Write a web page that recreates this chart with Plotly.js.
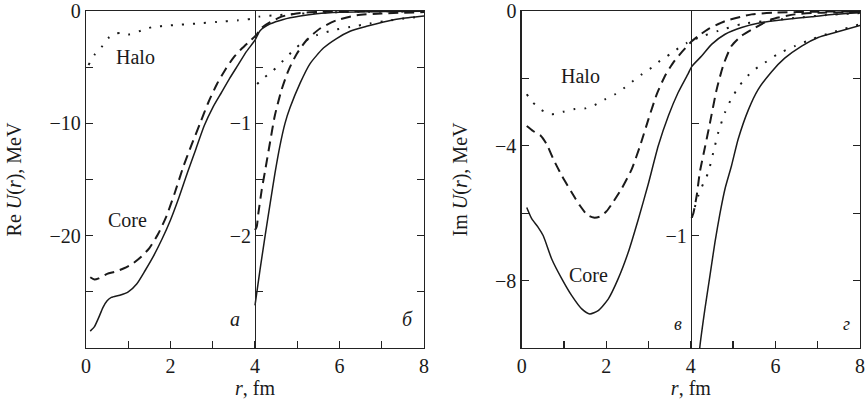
<!DOCTYPE html>
<html>
<head>
<meta charset="utf-8">
<script src="https://cdn.plot.ly/plotly-3.0.1.min.js"></script>
<style>
html,body{margin:0;padding:0;background:#fff;}
#chart{width:866px;height:399px;}
</style>
</head>
<body>
<div id="chart"></div>
<script>
// ---------- Left panel (Re U), main scale ----------
const reSolidR = [0.1,0.2,0.3,0.4,0.5,0.6,0.8,1.0,1.2,1.4,1.6,1.8,2.0,2.2,2.4,2.6,2.8,3.0,3.2,3.4,3.6,3.8,4.0,4.12,4.36,4.67,5.07,5.46,6.0,7.0,8.0];
const reSolidV = [-28.5,-28.1,-27.3,-26.4,-25.8,-25.5,-25.3,-25.0,-24.3,-23.1,-21.8,-20.3,-18.6,-16.6,-14.4,-12.3,-10.2,-8.6,-7.3,-6.0,-4.8,-3.6,-2.6,-1.75,-1.15,-0.75,-0.45,-0.25,-0.12,-0.05,-0.02];
const reDashR = [0.1,0.2,0.3,0.5,0.7,0.9,1.1,1.3,1.5,1.7,1.9,2.1,2.3,2.5,2.7,2.9,3.1,3.3,3.5,3.7,3.9,4.04,4.12,4.36,4.6,4.75,5.07,5.5,6.0,7.0,8.0];
const reDashV = [-23.7,-23.9,-23.8,-23.4,-23.2,-22.9,-22.5,-21.9,-21.1,-19.9,-18.3,-16.2,-13.9,-11.9,-10.0,-8.1,-6.5,-5.2,-4.1,-3.3,-2.6,-2.1,-1.6,-1.0,-0.55,-0.38,-0.17,-0.08,-0.04,-0.02,-0.01];
const reDotR = [0.06,0.2,0.37,0.53,0.7,0.85,1.0,1.15,1.3,1.55,2.0,2.6,3.1,3.6,3.9,4.1,4.4,4.8,5.5,6.5,8.0];
const reDotV = [-4.8,-3.9,-3.2,-2.4,-2.0,-1.95,-2.1,-1.95,-1.75,-1.45,-1.28,-1.12,-0.97,-0.83,-0.7,-0.5,-0.4,-0.3,-0.15,-0.07,-0.02];
// ---------- Left panel, magnified scale (r >= 4) ----------
const reSolidInR = [4.0,4.12,4.24,4.36,4.47,4.59,4.71,4.83,5.07,5.3,5.62,5.93,6.25,6.64,7.04,7.43,8.0];
const reSolidInV = [-2.62,-2.3,-2.0,-1.71,-1.45,-1.2,-1.0,-0.86,-0.64,-0.47,-0.33,-0.245,-0.18,-0.136,-0.097,-0.068,-0.044];
const reDashInR = [4.0,4.04,4.08,4.16,4.24,4.36,4.47,4.63,4.79,4.99,5.22,5.54,5.93,6.41,7.0,8.0];
const reDashInV = [-1.95,-1.92,-1.80,-1.59,-1.42,-1.16,-0.93,-0.70,-0.53,-0.38,-0.26,-0.156,-0.083,-0.038,-0.022,-0.01];
const reDotInR = [4.05,4.16,4.43,4.67,4.91,5.14,5.46,5.85,6.25,6.72,7.2,8.0];
const reDotInV = [-0.65,-0.61,-0.53,-0.44,-0.35,-0.275,-0.215,-0.171,-0.142,-0.112,-0.083,-0.047];

// ---------- Right panel (Im U), main scale ----------
const imSolidR = [0.12,0.24,0.39,0.51,0.71,0.95,1.18,1.42,1.61,1.81,2.05,2.28,2.52,2.76,2.99,3.23,3.47,3.70,3.94,4.02,4.26,4.49,4.81,5.2,5.67,6.22,6.86,7.4,8.0];
const imSolidV = [-5.83,-6.17,-6.42,-6.67,-7.36,-7.95,-8.44,-8.84,-8.99,-8.89,-8.54,-7.95,-7.16,-6.17,-5.15,-4.0,-3.11,-2.42,-1.85,-1.65,-1.33,-0.99,-0.69,-0.49,-0.34,-0.25,-0.17,-0.1,-0.05];
const imDashR = [0.12,0.27,0.45,0.59,0.75,0.95,1.18,1.38,1.55,1.7,1.85,2.0,2.13,2.36,2.6,2.8,3.0,3.2,3.4,3.6,3.8,4.02,4.18,4.41,4.81,5.44,6.0,7.0,8.0];
const imDashV = [-3.41,-3.56,-3.7,-3.95,-4.4,-4.89,-5.38,-5.78,-6.05,-6.13,-6.1,-5.95,-5.73,-5.28,-4.7,-4.0,-3.2,-2.45,-1.9,-1.5,-1.2,-0.9,-0.74,-0.54,-0.30,-0.1,-0.05,-0.02,-0.01];
const imDotR = [0.12,0.27,0.47,0.71,0.98,1.26,1.5,1.73,1.97,2.21,2.44,2.64,2.84,3.07,3.27,3.51,3.70,3.90,4.2,4.65,5.2,5.75,6.5,7.2,8.0];
const imDotV = [-2.47,-2.72,-2.94,-3.06,-2.99,-2.91,-2.89,-2.79,-2.62,-2.47,-2.27,-2.07,-1.88,-1.68,-1.48,-1.28,-1.11,-0.95,-0.78,-0.59,-0.39,-0.30,-0.2,-0.12,-0.06];
// ---------- Right panel, magnified scale (r >= 4) ----------
const imSolidInR = [4.18,4.21,4.33,4.45,4.57,4.69,4.81,4.96,5.12,5.36,5.59,5.91,6.22,6.62,7.01,7.41,8.0];
const imSolidInV = [-1.6,-1.5,-1.33,-1.18,-1.03,-0.90,-0.79,-0.69,-0.57,-0.44,-0.35,-0.27,-0.21,-0.156,-0.118,-0.096,-0.064];
const imDashInR = [4.02,4.06,4.14,4.21,4.33,4.45,4.61,4.77,4.96,5.2,5.52,5.91,6.46,7.0,8.0];
const imDashInV = [-0.92,-0.90,-0.82,-0.72,-0.61,-0.50,-0.35,-0.24,-0.156,-0.11,-0.074,-0.037,-0.015,-0.008,-0.004];
const imDotInR = [4.02,4.18,4.29,4.41,4.53,4.65,4.81,4.96,5.16,5.44,5.75,6.07,6.46,6.86,7.33,8.0];
const imDotInV = [-0.92,-0.82,-0.77,-0.72,-0.63,-0.54,-0.45,-0.39,-0.33,-0.27,-0.23,-0.19,-0.156,-0.126,-0.096,-0.059];

// ---------- Ticks ----------
const xTickVals = [0,1,2,3,4,5,6,7,8];
const xTickText = ['0','','2','','4','','6','','8'];
const reTickVals = [0,-5,-10,-15,-20,-25];
const reTickText = ['0','','\u221210','','\u221220',''];
const reInTickVals = [-0.5,-1,-1.5,-2,-2.5];
const reInTickText = ['','\u22121','','\u22122',''];
const imTickVals = [0,-2,-4,-6,-8];
const imTickText = ['0','','\u22124','','\u22128'];
const imInTickVals = [-0.5,-1];
const imInTickText = ['','\u22121'];

const FONT = 'Liberation Serif';
const INK = '#1a1a1a';
const solid = {color: INK, width: 1.5, shape: 'spline', smoothing: 0.6};
const dashed = {color: INK, width: 2, dash: '10px,6px', shape: 'spline', smoothing: 0.6};
const dotted = {color: INK, width: 2, dash: '2px,9px', shape: 'spline', smoothing: 0.6};

function tr(x, y, line, xa, ya) {
  return {x: x, y: y, xaxis: xa, yaxis: ya, mode: 'lines', line: line, hoverinfo: 'skip', showlegend: false};
}

const data = [
  tr(reSolidR, reSolidV, solid, 'x', 'y'),
  tr(reDashR, reDashV, dashed, 'x', 'y'),
  tr(reDotR, reDotV, dotted, 'x', 'y'),
  tr(reSolidInR, reSolidInV, solid, 'x', 'y3'),
  tr(reDashInR, reDashInV, dashed, 'x', 'y3'),
  tr(reDotInR, reDotInV, dotted, 'x', 'y3'),
  tr(imSolidR, imSolidV, solid, 'x2', 'y2'),
  tr(imDashR, imDashV, dashed, 'x2', 'y2'),
  tr(imDotR, imDotV, dotted, 'x2', 'y2'),
  tr(imSolidInR, imSolidInV, solid, 'x2', 'y4'),
  tr(imDashInR, imDashInV, dashed, 'x2', 'y4'),
  tr(imDotInR, imDotInV, dotted, 'x2', 'y4')
];

// plot area spans x = 86 .. 860 px (774 px)
const leftDom = [0, 0.4367];
const rightDom = [0.5629, 1];

const axBase = {
  showgrid: false, zeroline: false, showline: true, linecolor: '#222', linewidth: 1.3,
  ticks: 'inside', ticklen: 7, tickwidth: 1.3, tickcolor: '#222',
  tickfont: {family: FONT, size: 20, color: INK}, fixedrange: true,
  ticklabeloverflow: 'allow'
};
const xTitle = {text: '<i>r</i>, fm', font: {family: FONT, size: 20, color: INK}, standoff: 4};

const layout = {
  width: 866, height: 399,
  margin: {l: 86, r: 6, t: 11, b: 51},
  paper_bgcolor: '#fff', plot_bgcolor: '#fff',
  font: {family: FONT, size: 20, color: INK},
  showlegend: false,
  xaxis: Object.assign({}, axBase, {domain: leftDom, range: [0, 8], anchor: 'y', mirror: true,
    tickmode: 'array', tickvals: xTickVals, ticktext: xTickText, title: xTitle}),
  xaxis2: Object.assign({}, axBase, {domain: rightDom, range: [0, 8], anchor: 'y2', mirror: true,
    tickmode: 'array', tickvals: xTickVals, ticktext: xTickText, title: xTitle}),
  yaxis: Object.assign({}, axBase, {range: [-30, 0], anchor: 'x', mirror: 'ticks',
    tickmode: 'array', tickvals: reTickVals, ticktext: reTickText,
    title: {text: 'Re <i>U</i>(<i>r</i>), MeV', font: {family: FONT, size: 20, color: INK}, standoff: 22}}),
  yaxis3: Object.assign({}, axBase, {range: [-3, 0], overlaying: 'y', anchor: 'free',
    position: (leftDom[0] + leftDom[1]) / 2, side: 'left',
    tickmode: 'array', tickvals: reInTickVals, ticktext: reInTickText}),
  yaxis2: Object.assign({}, axBase, {range: [-10, 0], anchor: 'x2', mirror: 'ticks',
    tickmode: 'array', tickvals: imTickVals, ticktext: imTickText,
    title: {text: 'Im <i>U</i>(<i>r</i>), MeV', font: {family: FONT, size: 20, color: INK}, standoff: 22}}),
  yaxis4: Object.assign({}, axBase, {range: [-1.5, 0], overlaying: 'y2', anchor: 'free',
    position: (rightDom[0] + rightDom[1]) / 2, side: 'left',
    tickmode: 'array', tickvals: imInTickVals, ticktext: imInTickText}),
  annotations: [
    {x: 1.18, y: -4.1, xref: 'x', yref: 'y', text: 'Halo', showarrow: false, font: {family: FONT, size: 20, color: INK}},
    {x: 0.98, y: -18.6, xref: 'x', yref: 'y', text: 'Core', showarrow: false, font: {family: FONT, size: 20, color: INK}},
    {x: 3.53, y: -27.4, xref: 'x', yref: 'y', text: '<i>а</i>', showarrow: false, font: {family: FONT, size: 20, color: INK}},
    {x: 7.6, y: -27.4, xref: 'x', yref: 'y', text: '<i>б</i>', showarrow: false, font: {family: FONT, size: 20, color: INK}},
    {x: 1.38, y: -1.93, xref: 'x2', yref: 'y2', text: 'Halo', showarrow: false, font: {family: FONT, size: 20, color: INK}},
    {x: 1.57, y: -7.83, xref: 'x2', yref: 'y2', text: 'Core', showarrow: false, font: {family: FONT, size: 20, color: INK}},
    {x: 3.70, y: -9.28, xref: 'x2', yref: 'y2', text: '<i>в</i>', showarrow: false, font: {family: FONT, size: 18, color: INK}},
    {x: 7.69, y: -9.28, xref: 'x2', yref: 'y2', text: '<i>г</i>', showarrow: false, font: {family: FONT, size: 18, color: INK}}
  ]
};

Plotly.newPlot('chart', data, layout, {displayModeBar: false, staticPlot: true});
</script>
</body>
</html>
